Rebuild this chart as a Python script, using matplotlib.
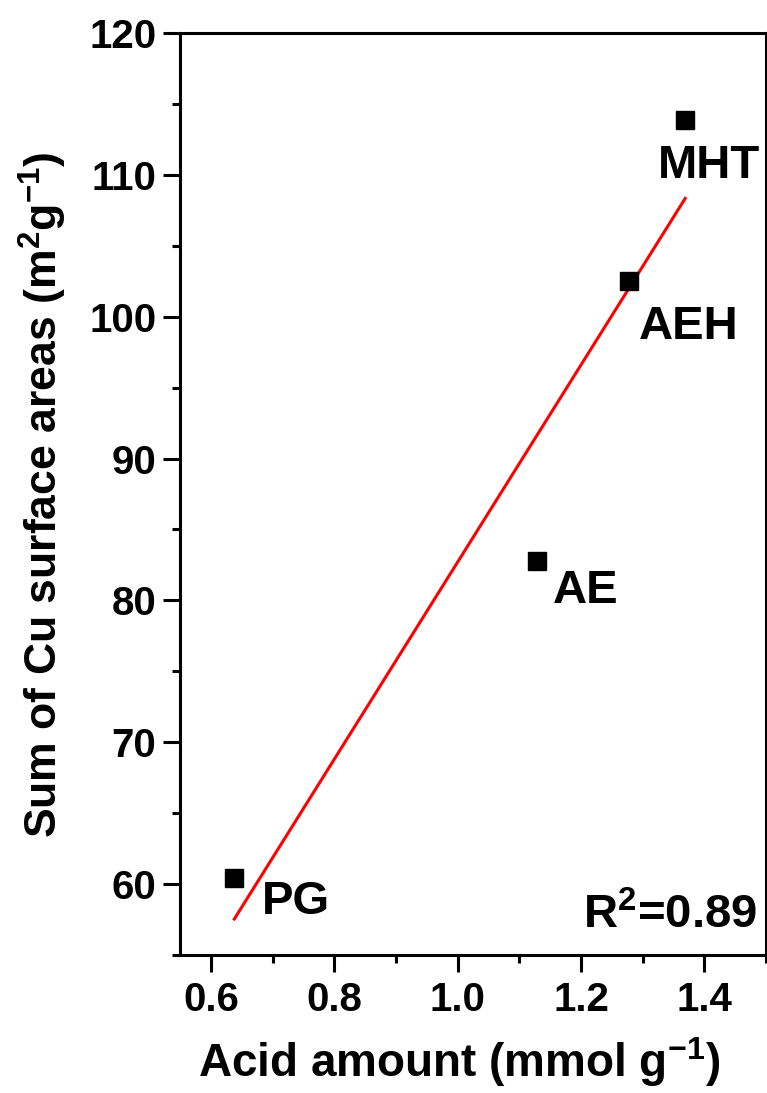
import numpy as np
import matplotlib
matplotlib.use('Agg')
import matplotlib.pyplot as plt
from matplotlib.ticker import MultipleLocator

plt.rcParams['font.family'] = ['Liberation Sans', 'DejaVu Sans']
plt.rcParams['font.weight'] = 'bold'
plt.rcParams['mathtext.fontset'] = 'custom'
plt.rcParams['mathtext.rm'] = 'Liberation Sans:bold'
plt.rcParams['mathtext.bf'] = 'Liberation Sans:bold'
plt.rcParams['mathtext.default'] = 'rm'

# Данные
samples = ['PG', 'AE', 'AEH', 'MHT']
acid = [0.638, 1.129, 1.278, 1.369]
cu_area = [60.4, 82.75, 102.5, 113.9]
label_offsets = {'PG': (28, -2), 'AE': (16, -8), 'AEH': (10, -24), 'MHT': (-27, -24)}

x = np.array(acid)
y = np.array(cu_area)
k, b = np.polyfit(x, y, 1)
x_fit = np.array([x.min(), x.max()])

fig = plt.figure(figsize=(7.67, 10.93), dpi=100)
ax = fig.add_axes([180 / 767, 138 / 1093, 586 / 767, 922 / 1093])

ax.plot(x_fit, k * x_fit + b, color='red', linewidth=2.2, zorder=2)
ax.plot(x, y, 's', color='black', markersize=13.5, zorder=3)

for name, xi, yi in zip(samples, acid, cu_area):
    ax.annotate(name, (xi, yi), xytext=label_offsets[name], textcoords='offset pixels',
                ha='left', va='top', fontsize=34, fontweight='bold')

fig.text(757 / 767, 1 - 928 / 1093, 'R$^2$=0.89', ha='right', va='baseline',
         fontsize=34, fontweight='bold')

ax.set_xlim(0.55, 1.5)
ax.set_ylim(55, 120)
ax.xaxis.set_minor_locator(MultipleLocator(0.1))
ax.yaxis.set_major_locator(MultipleLocator(10))
ax.yaxis.set_minor_locator(MultipleLocator(5))
ax.set_xticks([0.6, 0.8, 1.0, 1.2, 1.4])
ax.set_xticklabels(['0.6', '0.8', '1.0', '1.2', '1.4'])

for s in ax.spines.values():
    s.set_linewidth(2.2)
ax.tick_params(which='major', direction='out', length=12, width=2.2, labelsize=29)
ax.tick_params(axis='x', which='major', pad=7)
ax.tick_params(axis='y', which='major', pad=5)
ax.tick_params(which='minor', direction='out', length=6, width=2.2)
ax.tick_params(top=False, right=False)
for lab in ax.get_xticklabels() + ax.get_yticklabels():
    lab.set_fontweight('bold')

fig.text(43 / 767, 1 - 495 / 1093, 'Sum of Cu surface areas (m$^2$g$^{-1}$)',
         rotation=90, ha='center', va='center', fontsize=32, fontweight='bold')
fig.text(459 / 767, 1 - 1062 / 1093, 'Acid amount (mmol g$^{-1}$)',
         ha='center', va='center', fontsize=33, fontweight='bold')

fig.savefig('out.png', dpi=100)
